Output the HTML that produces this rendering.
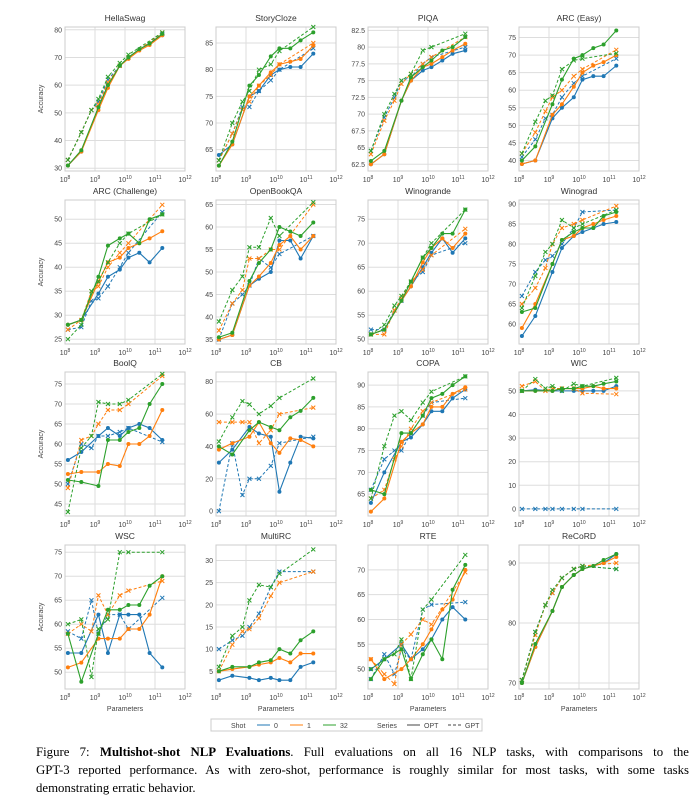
<!DOCTYPE html>
<html><head><meta charset="utf-8"><style>
body{margin:0;background:#fff;width:694px;height:801px;overflow:hidden;position:relative}
#cap{position:absolute;left:36px;top:743px;width:653px;font-family:"Liberation Serif",serif;font-size:12.8px;line-height:18px;color:#000}
#cap .j{text-align:justify;text-align-last:justify;white-space:nowrap}
</style></head><body>
<svg id="s" width="694" height="740" style="position:absolute;left:0;top:0" font-family="Liberation Sans, DejaVu Sans, sans-serif"></svg>
<div id="cap"><div class="j">Figure 7: <b>Multishot-shot NLP Evaluations</b>. Full evaluations on all 16 NLP tasks, with comparisons to the</div><div class="j">GPT-3 reported performance. As with zero-shot, performance is roughly similar for most tasks, with some tasks</div><div>demonstrating erratic behavior.</div></div>
<script>
const OX=[8.097,8.544,9.114,9.431,9.826,10.114,10.477,10.82,11.243];
const GX=[8.097,8.544,8.881,9.114,9.431,9.826,10.114,11.243];
const C=['#1f77b4','#ff7f0e','#2ca02c'];
const P=[
["HellaSwag",[29,81],[30,40,50,60,70,80],
[[31,36,52,60,67,70,73,75,78],[31,36,51,59,67,69.5,72.5,74.5,78],[31,36.5,52,60,67,70,73,75,78.5]],
[[33,43,51,54,62,67,70,78.5],[33,43,51,53,61,67,70,79],[33,43,51,55,63,68,71,79]]],
["StoryCloze",[61,88],[65,70,75,80,85],
[[64,66,75,76,79,80,80.5,80.5,83],[62,66,75,77,79.5,81,81.5,82,84.5],[62,66.5,77,79,82.5,84,84,85.5,87]],
[[63,68,73,73,76,78,80,84],[63,68,72.5,74,77,79,81,85],[63,70,74,76,80,81,83.5,88]]],
["PIQA",[61.5,83],[62.5,65,67.5,70,72.5,75,77.5,80,82.5],
[[62.5,64,72,75,76.5,77,78,79,79.5],[62.5,64,72,75,77,77.5,78.5,79.5,80.5],[63,64.5,72,75.5,77,78,79.5,80,81.5]],
[[64.5,69.5,72.5,75,75.5,77.5,78.5,80],[64,69,72,74.5,76,77.5,78.5,81.5],[64.5,70,73,75,76,79.5,80,82]]],
["ARC (Easy)",[37,78],[40,45,50,55,60,65,70,75],
[[39,40,52,55,58,63,64,64,67],[39,40,53,56,61,65,67,68,70],[40,44,56,63,69,70,72,73,77]],
[[41,46,52,53,58,62,64,69],[42,48,54,58,60,64,66,71.5],[42,51,57,58.5,66,68.5,69,70.5]]],
["ARC (Challenge)",[24,54],[25,30,35,40,45,50],
[[28,29,34.5,38,39.5,42,43,41,44],[28,29,37,41,42,44,45,46,47.5],[28,29,38,44.5,46,47,45,50,51]],
[[27,27.5,33,33.5,36,40,43,51.5],[27,29,35,36,40,43,45,53],[25,28,35,37,41,45,47,51]]],
["OpenBookQA",[34,66],[35,40,45,50,55,60,65],
[[35,36,47,48.5,50,57,57,53,58],[35,36,47,49,52,56,58,55,58],[35.5,36.5,48,52,55,60,59,58,61]],
[[35,43,45,47,53,51,54,58],[37,43,46,53,53,55,55,65],[39,46,49,55.5,55.5,62,58,65.5]]],
["Winogrande",[49,79],[50,55,60,65,70,75],
[[51,52,58,61,65,68,71,68,71],[51,52,58,61,66,69,71,69,72],[51,52,58,62,67,69,72,72,77]],
[[52,52,56,58,62,64,67.5,70],[51,51,56,58.5,62,64.5,67.5,73],[51,53,57,59,62,67,70,77]]],
["Winograd",[55,91],[60,65,70,75,80,85,90],
[[57,62,73,79,82,83,84,85,85.5],[59,65,75,81,82,84,85,86,87],[63,64,75,81,83,84,84,87,88]],
[[67,73,76,77,80,84,88,88.5],[65,69,74,80,84,85,86,89.5],[64,72,78,80,86,84,85,88.5]]],
["BoolQ",[42,78],[45,50,55,60,65,70,75],
[[56,58,62,64,62,64,65,64,61],[52.5,53,53,55,54.5,60,60,62,68.5],[51,50.5,49.5,61,61,63,64,70,75]],
[[50,60,59,62,62,63,64,60.5],[49,61,62,65,68.5,68.5,70,77],[43,59,62,70.5,70,70,71,77.5]]],
["CB",[-3,86],[0,20,40,60,80],
[[30,38,52,48,46,12,30,46,45],[38,42,46,55,42,36,45,44,40],[40,35,50,55,52,50,58,62,70]],
[[0,42,10,20,20,28,42,46],[55,55,55,55,42,50,60,64],[43,58,68,66,60,65,70,82]]],
["COPA",[60,93],[65,70,75,80,85,90],
[[63,70,77,78,81,84,84,87,89],[61,64,77,79,81,85,85,88,89.5],[66,65,79,79,83,87,88,90,92]],
[[66,73,75,75,79,83,86,87],[64,66,73,76,80,84,86,89],[64,76,83,84,82,86,88.5,92]]],
["WIC",[-3,58],[0,10,20,30,40,50],
[[50,50.5,50,50,50,50,50,50,52],[50,50,50,51,51,51,52,51,51],[50,50,50,51,51,52,52,53,54]],
[[0,0,0,0,0,0,0,0],[52,54,50,51,51,51,49,48.6],[50,55,51,52,50,53,52,55.5]]],
["WSC",[46.5,76.5],[50,55,60,65,70,75],
[[54,54,62,54,62,62,62,54,51],[51,52,57,57,57,59,59,62,70],[58,48,58,63,63,64,64,68,70]],
[[58.5,57,65,58,62,62,59,65.5],[58,60,58.5,66,62,66,67,69],[60,61,49,59,61,75,75,75]]],
["MultiRC",[1,33.5],[5,10,15,20,25,30],
[[3,4,3.5,3,3.5,3,3,6,7],[5,5.5,6,6.5,7,8,7,9,9],[5,6,6,7,7.5,10,9,12,14]],
[[10,12,13,15,18,24,27.5,27.5],[5,11,14,14.5,17,22,25,27.5],[6,13,15,21,24.5,24,27,32.5]]],
["RTE",[46,75],[50,55,60,65,70],
[[50,52,55,52,54,56,60,62.5,60],[52,48,50,52,55,58,62,64,70],[48,52,54,48,53,56,52,66,71]],
[[48,53,49,54,52,62,63,63.5],[52,49,47,55,57,60,59,69.5],[50,52,53,56,48,62,64,73]]],
["ReCoRD",[69,93],[70,80,90],
[[70,76,82,86,88,89,89.5,90,91.5],[70,76,82,86,88,89,89.5,90,91],[70,76.5,82,86,88,89,89.5,90.5,91.5]],
[[70.5,78.5,83,85,87.5,89,89.5,89],[70.5,78,83,85,87.5,89,89.5,90],[70.5,78.5,83,85.5,87.5,89,89.5,89]]]
];
const L=[65,216,368,519],T=[27,200,372,545],W=120,H=144;
let s='';
P.forEach((p,i)=>{
 const c=i%4,r=Math.floor(i/4),x0=L[c],y0=T[r];
 const [a,b]=p[1];
 const fx=v=>x0+(v-8)/4*W, fy=v=>y0+H-(v-a)/(b-a)*H;
 s+=`<text x="${x0+W/2}" y="${y0-6}" font-size="8.5" fill="#333" text-anchor="middle">${p[0]}</text>`;
 for(let e=8;e<=12;e++){const x=fx(e);s+=`<line x1="${x}" y1="${y0}" x2="${x}" y2="${y0+H}" stroke="#ddd" stroke-width="1"/>`;
  s+=`<text x="${x}" y="${y0+H+11}" font-size="7" fill="#444" text-anchor="middle">10<tspan dy="-3" font-size="5">${e}</tspan></text>`;}
 p[2].forEach(t=>{const y=fy(t);s+=`<line x1="${x0}" y1="${y}" x2="${x0+W}" y2="${y}" stroke="#ddd" stroke-width="1"/>`;
  s+=`<text x="${x0-3}" y="${y+2.5}" font-size="7" fill="#444" text-anchor="end">${t}</text>`;});
 s+=`<rect x="${x0}" y="${y0}" width="${W}" height="${H}" fill="none" stroke="#ccc" stroke-width="1"/>`;
 for(let k=0;k<3;k++){
  const g=p[4][k];s+=`<polyline fill="none" stroke="${C[k]}" stroke-width="1" stroke-dasharray="3,2" points="${g.map((v,j)=>fx(GX[j])+','+fy(v)).join(' ')}"/>`;
  g.forEach((v,j)=>{const x=fx(GX[j]),y=fy(v);s+=`<path d="M${x-2} ${y-2}L${x+2} ${y+2}M${x-2} ${y+2}L${x+2} ${y-2}" stroke="${C[k]}" stroke-width="1"/>`;});
  const o=p[3][k];s+=`<polyline fill="none" stroke="${C[k]}" stroke-width="1.1" points="${o.map((v,j)=>fx(OX[j])+','+fy(v)).join(' ')}"/>`;
  o.forEach((v,j)=>{s+=`<circle cx="${fx(OX[j])}" cy="${fy(v)}" r="2" fill="${C[k]}"/>`;});
 }
 if(c==0)s+=`<text transform="translate(${x0-22},${y0+H/2}) rotate(-90)" font-size="7" fill="#444" text-anchor="middle">Accuracy</text>`;
 if(r==3)s+=`<text x="${x0+W/2}" y="${y0+H+22}" font-size="7" fill="#444" text-anchor="middle">Parameters</text>`;
});
s+=`<rect x="211" y="719" width="271" height="12" fill="#fff" stroke="#ccc"/>`;
const lt=(x,t)=>`<text x="${x}" y="728" font-size="7" fill="#444">${t}</text>`;
s+=lt(231,'Shot');
s+=`<line x1="257" y1="725" x2="270" y2="725" stroke="${C[0]}"/>`+lt(274,'0');
s+=`<line x1="290" y1="725" x2="303" y2="725" stroke="${C[1]}"/>`+lt(307,'1');
s+=`<line x1="323" y1="725" x2="336" y2="725" stroke="${C[2]}"/>`+lt(340,'32');
s+=lt(377,'Series');
s+=`<line x1="407" y1="725" x2="420" y2="725" stroke="#444"/>`+lt(424,'OPT');
s+=`<line x1="448" y1="725" x2="461" y2="725" stroke="#444" stroke-dasharray="3,2"/>`+lt(465,'GPT');
document.getElementById('s').innerHTML=s;
</script>
</body></html>
